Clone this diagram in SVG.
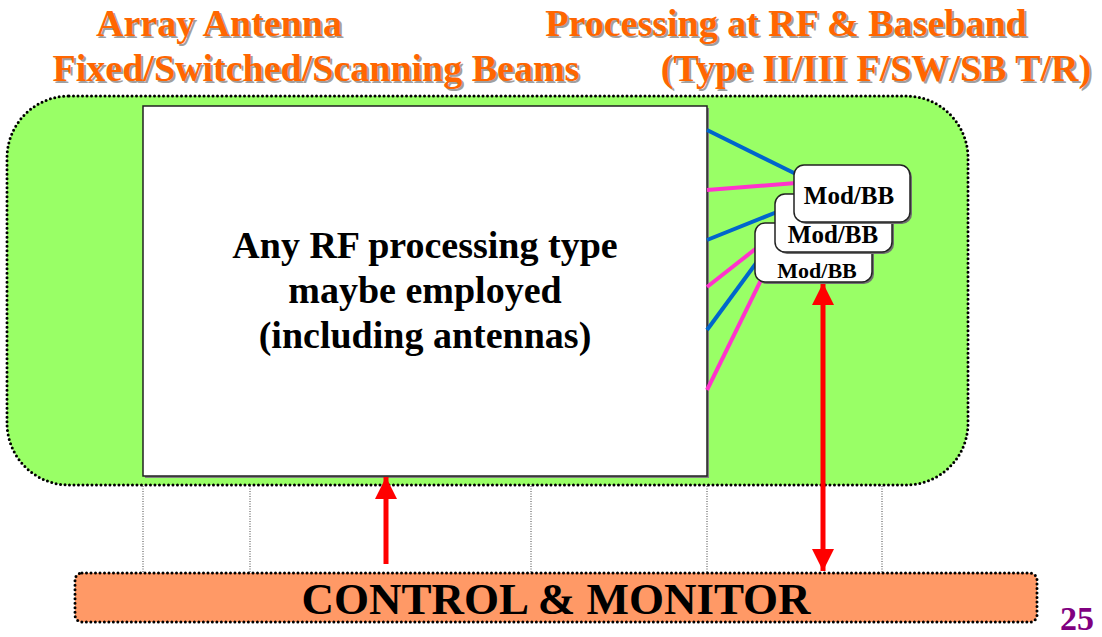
<svg xmlns="http://www.w3.org/2000/svg" width="1102" height="637" viewBox="0 0 1102 637">
<style>
text{font-family:"Liberation Serif","Times New Roman",Times,"DejaVu Serif","Noto Serif",serif;font-weight:bold;text-anchor:middle}
.title{font-size:38px;fill:#FF6600}
.shadow{font-size:38px;fill:#A0A0A0}
.big{font-size:38px;fill:#000}
.mod{font-size:25px;fill:#000}
.dotted{stroke:#000;stroke-width:3;stroke-dasharray:0 4.5;stroke-linecap:round;fill:none}
.thin{stroke:#444;stroke-width:1;stroke-dasharray:1 1.5;fill:none}
.blue{stroke:#0066CC;stroke-width:4;fill:none}
.pink{stroke:#FF33CC;stroke-width:4;fill:none}
.box{fill:#fff;stroke:#222;stroke-width:1.5}
.red{stroke:#FF0000;stroke-width:5;fill:none}
</style>
<defs>
<marker id="ah" viewBox="0 0 10 10" refX="10" refY="5" markerWidth="4.4" markerHeight="4.4" markerUnits="strokeWidth" orient="auto-start-reverse">
<path d="M0,0 L10,5 L0,10 z" fill="#FF0000"/>
</marker>
</defs>

<g id="titles">
<text class="shadow" x="221" y="38">Array Antenna</text>
<text class="title" x="219" y="36">Array Antenna</text>
<text class="shadow" x="318" y="83">Fixed/Switched/Scanning Beams</text>
<text class="title" x="316" y="81">Fixed/Switched/Scanning Beams</text>
<text class="shadow" x="788" y="38">Processing at RF &amp; Baseband</text>
<text class="title" x="786" y="36">Processing at RF &amp; Baseband</text>
<text class="shadow" x="878" y="83">(Type II/III F/SW/SB T/R)</text>
<text class="title" x="876" y="81">(Type II/III F/SW/SB T/R)</text>
</g>

<g id="system">
<rect x="7" y="96" width="961" height="389" rx="62" ry="62" fill="#99FF66"/>
<rect x="7" y="96" width="961" height="389" rx="62" ry="62" class="dotted"/>
</g>

<g id="rf-processing">
<rect x="145" y="108" width="564" height="370" fill="#808080"/>
<rect x="143" y="106" width="564" height="370" class="box"/>
<text class="big" x="425" y="258">Any RF processing type</text>
<text class="big" x="425" y="303">maybe employed</text>
<text class="big" x="425" y="348">(including antennas)</text>
</g>

<g id="connectors">
<line class="blue" x1="707" y1="130" x2="796" y2="174"/>
<line class="pink" x1="707" y1="190" x2="796" y2="183"/>
<line class="blue" x1="707" y1="240" x2="777" y2="212"/>
<line class="pink" x1="707" y1="287" x2="777" y2="232"/>
<line class="blue" x1="707" y1="330" x2="757" y2="262"/>
<line class="pink" x1="707" y1="390" x2="765" y2="272"/>
<line class="thin" x1="143" y1="486" x2="143" y2="573"/>
<line class="thin" x1="250" y1="486" x2="250" y2="573"/>
<line class="thin" x1="531" y1="486" x2="531" y2="573"/>
<line class="thin" x1="707" y1="486" x2="707" y2="573"/>
<line class="thin" x1="882" y1="486" x2="882" y2="573"/>
<line class="red" x1="386" y1="564" x2="386" y2="477" marker-end="url(#ah)"/>
<line class="red" x1="823" y1="283" x2="823" y2="571" marker-start="url(#ah)" marker-end="url(#ah)"/>
</g>

<g id="modbb3">
<rect x="757" y="225" width="117" height="59" rx="10" fill="#707070"/>
<rect x="755" y="223" width="117" height="59" rx="10" class="box"/>
<text class="mod" x="817" y="278" style="font-size:22px">Mod/BB</text>
</g>
<g id="modbb2">
<rect x="777" y="196" width="117" height="58" rx="10" fill="#707070"/>
<rect x="775" y="194" width="117" height="58" rx="10" class="box"/>
<text class="mod" x="833" y="243">Mod/BB</text>
</g>
<g id="modbb1">
<rect x="796" y="167" width="116" height="57" rx="10" fill="#707070"/>
<rect x="794" y="165" width="116" height="57" rx="10" class="box"/>
<text class="mod" x="849" y="204">Mod/BB</text>
</g>

<g id="control-monitor">
<rect x="75" y="573" width="962" height="49" rx="7" fill="#FF9966"/>
<rect x="75" y="573" width="962" height="49" rx="7" class="dotted"/>
<text x="556" y="614" style="font-size:45px;fill:#000">CONTROL &amp; MONITOR</text>
</g>

<g id="page-number">
<text x="1077" y="630" style="font-size:34px;fill:#800080">25</text>
</g>
</svg>
